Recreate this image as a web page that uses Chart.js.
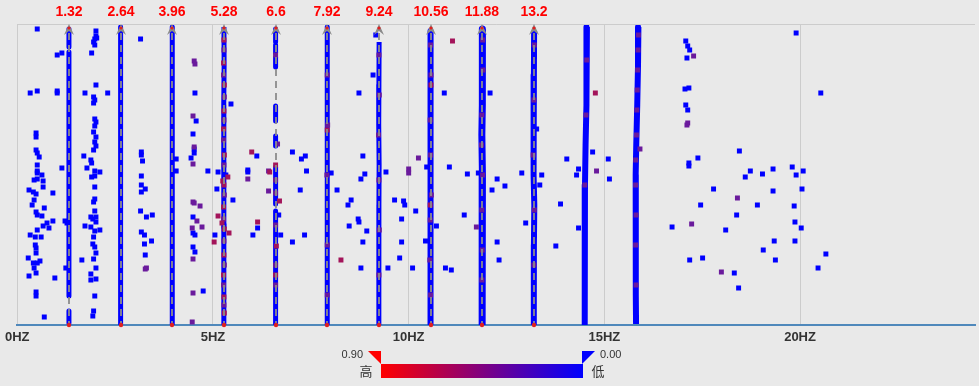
<!DOCTYPE html>
<html><head><meta charset="utf-8">
<script src="https://cdn.jsdelivr.net/npm/chart.js@4/dist/chart.umd.min.js"></script>
<style>html,body{margin:0;padding:0;background:#e9e9e9;overflow:hidden}#wrap{width:979px;height:386px;position:relative}</style>
</head><body><div id="wrap"><canvas id="c" width="979" height="386"></canvas></div>
<script>
// ---- data ----
const harmonics = [1.32, 2.64, 3.96, 5.28, 6.6, 7.92, 9.24, 10.56, 11.88, 13.2];
const harmonicLabels = ["1.32", "2.64", "3.96", "5.28", "6.6", "7.92", "9.24", "10.56", "11.88", "13.2"];
const xTicks = [0, 5, 10, 15, 20];
const xUnit = "HZ";
const legendMaxLabel = "0.90";
const legendMinLabel = "0.00";
const legendHigh = "高";
const legendLow = "低";

// dense frequency columns: [freq, amplitude] pairs, null = gap
const columnTraces = [
  [[1.32,296],[1.32,278],null,[1.32,273],[1.32,29],null,[1.32,14],[1.32,2]],
  [[2.64,298],[2.64,1]],
  [[3.96,298],[3.96,1]],
  [[5.28,298],[5.285,260],[5.275,220],[5.28,180],[5.275,140],[5.28,100],[5.275,60],[5.28,1]],
  [[6.6,296],[6.6,283],null,[6.6,280],[6.6,272],null,[6.6,268],[6.6,258],null,[6.6,219],[6.6,204],null,[6.6,189],[6.6,179],null,[6.6,158],[6.6,121],null,[6.6,114],[6.6,1]],
  [[7.92,298],[7.92,1]],
  [[9.245,283],[9.24,240],[9.235,200],[9.245,160],[9.24,120],[9.235,80],[9.24,40],[9.24,1]],
  [[10.56,294],[10.565,260],[10.555,220],[10.56,180],[10.57,140],[10.555,100],[10.55,60],[10.56,20],[10.555,1]],
  [[11.885,296],[11.89,260],[11.875,220],[11.87,190],[11.885,150],[11.875,110],[11.88,70],[11.875,40],[11.88,1]],
  [[13.205,294],[13.20,250],[13.19,200],[13.185,175],[13.20,150],[13.21,120],[13.20,80],[13.195,40],[13.20,1]],
  [[14.555,298],[14.55,260],[14.535,220],[14.52,180],[14.505,140],[14.50,100],[14.50,60],[14.495,1]],
  [[15.87,298],[15.86,260],[15.84,220],[15.815,180],[15.80,150],[15.805,110],[15.80,70],[15.805,30],[15.81,1]]
];
const columnWidths = [5,5,5,5,5,5,5,6,7,6,6,6];

// low-level (blue) points
const bluePoints = [
  [0.51,296],[1.02,270],[1.14,272],[0.33,232],[0.51,234],[1.02,234],[1.02,232],[0.48,192],[0.48,188],
  [0.48,175],[0.51,172],[0.56,168],[0.51,160],[0.51,154],[0.51,152],[0.63,150],[0.43,145],[0.51,146],
  [0.66,144],[0.66,138],[0.30,135],[0.41,133],[0.48,131],[0.91,132],[0.43,125],[0.38,120],[0.69,117],
  [0.48,113],[0.51,110],[0.63,109],[0.76,102],[0.91,104],[0.81,97],[0.66,99],[0.51,95],[0.33,90],
  [0.61,88],[0.46,88],[0.46,80],[0.48,77],[0.48,72],[0.28,67],[0.58,64],[0.51,62],[0.41,62],[0.43,57],
  [0.48,52],[0.30,49],[0.96,47],[0.48,33],[0.48,29],[0.69,8],
  [1.14,157],[1.22,104],[1.27,102],[1.24,57],
  [2.01,294],[2.01,289],[1.98,286],[2.03,287],[1.95,283],[1.98,280],[1.90,272],[2.01,240],[1.73,232],
  [1.95,228],[1.98,225],[1.95,222],[2.31,232],[1.98,206],[2.01,203],[1.98,199],[1.95,193],[2.01,188],
  [1.98,183],[2.01,179],[1.95,175],[1.70,169],[1.88,165],[1.90,162],[1.78,157],[1.98,154],[2.11,153],
  [1.90,148],[1.98,149],[1.98,138],[1.98,126],[1.95,123],[1.98,114],[1.88,108],[1.93,106],[2.01,108],
  [2.01,103],[1.73,99],[1.88,98],[1.98,94],[2.11,95],[1.95,88],[1.93,81],[1.98,78],[2.01,72],[1.65,65],
  [1.95,66],[2.01,57],[1.88,51],[2.01,46],[1.88,45],[1.98,29],[1.95,14],[1.93,9],
  [3.15,286],[3.17,173],[3.17,170],[3.20,164],[3.17,149],[3.17,140],[3.27,136],[3.17,133],[3.15,114],
  [3.30,108],[3.45,110],[3.17,93],[3.25,90],[3.43,84],[3.25,81],[3.27,70],
  [4.06,166],[4.06,154],
  [4.54,232],[4.57,204],[4.49,191],[4.52,176],[4.52,172],[4.44,167],[4.49,108],[4.49,92],[4.54,90],
  [4.49,78],[4.54,73],[4.75,34],[4.87,154],[5.13,153],[5.10,136],[5.05,90],
  [5.33,150],[5.28,99],[5.46,221],[5.51,125],
  [6.12,169],[5.89,155],[5.89,153],[6.14,97],[6.02,90],[6.68,110],[6.73,90],
  [7.03,173],[7.26,166],[7.36,169],[7.39,154],[7.23,135],[7.03,83],[7.34,90],
  [8.02,152],[8.17,135],[8.53,125],[8.45,120],[8.83,169],[8.78,146],[8.88,151],[8.71,106],[8.73,103],
  [8.48,99],[8.93,94],[8.83,83],[8.78,57],[8.73,232],[9.09,250],[9.16,290],[9.42,153],
  [9.64,125],[9.87,124],[9.90,120],[10.18,114],[9.82,106],[9.82,83],[9.77,67],[9.47,57],[10.10,57],
  [10.46,158],[10.71,99],[10.43,84],
  [10.91,232],[11.04,158],[11.50,151],[11.42,110],[10.94,57],[11.09,55],[11.78,152],
  [12.08,232],[12.13,135],[12.26,146],[12.46,139],[12.26,83],[12.31,65],[12.89,152],
  [13.27,196],[13.40,150],[13.35,140],[12.99,102],[13.76,79],
  [14.04,166],[14.34,156],[14.29,150],[13.88,121],[14.34,97],[14.70,173],[15.10,166],[15.13,146],
  [17.08,284],[17.13,279],[17.18,275],[17.11,267],[17.06,236],[17.16,237],[17.08,220],[17.13,215],
  [17.16,162],[17.16,159],[17.39,167],[16.73,98],[17.18,65],[17.51,67],[17.79,136],[17.46,120],
  [18.32,52],[18.10,95],[18.43,37],[18.45,174],[18.38,110],[18.60,148],[18.73,154],[18.91,120],
  [19.04,151],[19.06,75],[19.31,156],[19.31,134],[19.34,84],[19.37,65],[19.80,158],[19.90,150],
  [20.05,136],[19.85,119],[19.87,103],[20.03,97],[19.87,84],[20.08,154],[19.90,292],[20.53,232],
  [20.66,71],[20.46,57]
];

// mid-level (purple) points
const purplePoints = [
  [3.30,57],[3.27,56],[4.52,264],[4.54,261],[4.49,209],[4.52,178],[4.49,161],[4.49,123],[4.52,122],
  [4.67,119],[4.59,104],[4.72,98],[4.47,97],[4.49,66],[4.49,32],[4.47,3],[5.89,146],[6.42,154],
  [6.42,134],[6.65,181],[10.00,156],[10.00,152],[10.25,167],[11.73,98],[14.80,154],[15.91,176],
  [17.28,269],[17.13,202],[17.11,200],[17.23,101],[17.99,53],[18.40,127],
  // on the dense columns
  [5.28,275],[5.27,250],[5.29,228],[5.28,205],[5.27,185],[5.28,160],[5.29,130],[5.27,106],[5.28,84],
  [5.29,60],[5.27,40],[5.28,20],
  [6.6,270],[6.6,145],[6.6,132],[6.6,100],[6.6,60],[6.6,40],
  [7.92,250],[7.93,200],[7.91,150],[7.92,80],[7.92,30],
  [9.24,270],[9.25,230],[9.23,190],[9.24,145],[9.25,95],[9.24,50],
  [10.56,280],[10.57,250],[10.55,205],[10.56,170],[10.58,130],[10.55,105],[10.54,65],[10.56,30],
  [11.89,285],[11.90,255],[11.87,210],[11.86,180],[11.89,150],[11.87,115],[11.88,75],[11.87,45],
  [13.21,280],[13.20,225],[13.18,170],[13.21,115],[13.2,60],
  [14.55,265],[14.53,210],[14.50,140],
  [15.87,290],[15.86,275],[15.85,255],[15.84,235],[15.83,215],[15.82,190],[15.80,165],[15.80,140],
  [15.81,110],[15.80,80],[15.81,40]
];

// high-level (red) points
const redPoints = [
  [5.13,109],[5.03,83],[5.38,148],[5.25,144],[5.23,102],[5.41,92],[5.99,173],[6.45,153],[6.14,103],
  [6.70,124],[6.62,79],[8.27,65],[11.12,284],[14.77,232],
  [5.28,285],[5.27,262],[5.29,240],[5.28,214],[5.27,196],[5.29,170],[5.28,140],[5.27,118],[5.29,96],
  [5.28,70],[5.27,50],[5.28,28],[5.29,12],
  [6.6,160],[6.6,50],[7.92,195],[10.57,240],[10.55,120]
];

// ---- build ----
const BLUE = '#0000ff', PURPLE = '#6a1a9c', RED = '#a3145a';
const toXY = a => a.map(p => p ? {x: p[0], y: p[1]} : {x: null, y: null});

const datasets = [];
columnTraces.forEach((tr, i) => {
  datasets.push({
    type: 'scatter', data: toXY(tr), showLine: true, spanGaps: false,
    borderColor: BLUE, borderWidth: columnWidths[i], pointRadius: 0,
    borderCapStyle: 'butt', borderJoinStyle: 'round', order: 10
  });
});
[[bluePoints, BLUE, 4], [purplePoints, PURPLE, 3], [redPoints, RED, 2]].forEach(([pts, col, ord]) => {
  datasets.push({
    type: 'scatter', data: toXY(pts), pointStyle: 'rect', pointRadius: 3.5, pointBorderWidth: 0,
    backgroundColor: col, borderColor: col, order: ord
  });
});

const overlay = {
  id: 'overlay',
  afterDatasetsDraw(chart) {
    const ctx = chart.ctx, xs = chart.scales.x, ca = chart.chartArea;
    ctx.save();
    // top border
    ctx.strokeStyle = '#cccccc'; ctx.lineWidth = 1;
    ctx.beginPath(); ctx.moveTo(ca.left, ca.top + 0.5); ctx.lineTo(ca.right, ca.top + 0.5); ctx.stroke();
    harmonics.forEach((h, i) => {
      const x = Math.round(xs.getPixelForValue(h));
      // dashed line
      ctx.strokeStyle = 'rgba(140,140,140,0.9)'; ctx.lineWidth = 2; ctx.setLineDash([7, 5]);
      ctx.beginPath(); ctx.moveTo(x, ca.top + 9); ctx.lineTo(x, ca.bottom); ctx.stroke();
      ctx.setLineDash([]);
      // arrow head
      ctx.fillStyle = '#8a8a8a';
      ctx.beginPath();
      ctx.moveTo(x, ca.top); ctx.lineTo(x + 5, ca.top + 11); ctx.lineTo(x, ca.top + 7); ctx.lineTo(x - 5, ca.top + 11);
      ctx.closePath(); ctx.fill();
      ctx.fillStyle = '#e02020';
      ctx.beginPath(); ctx.arc(x, ca.top + 4, 1.6, 0, Math.PI * 2); ctx.fill();
      ctx.beginPath(); ctx.arc(x, ca.bottom, 2.2, 0, Math.PI * 2); ctx.fill();
      // label
      ctx.fillStyle = '#ff0000'; ctx.font = 'bold 14px "Liberation Sans", Arial, sans-serif';
      ctx.textAlign = 'center'; ctx.textBaseline = 'middle';
      ctx.fillText(harmonicLabels[i], x, 12);
    });
    // colour legend
    const gx0 = 381, gx1 = 583, gy0 = 364, gy1 = 378;
    const g = ctx.createLinearGradient(gx0, 0, gx1, 0);
    g.addColorStop(0, '#ff0000'); g.addColorStop(0.5, '#800080'); g.addColorStop(1, '#0000ff');
    ctx.fillStyle = g; ctx.fillRect(gx0, gy0, gx1 - gx0, gy1 - gy0);
    ctx.fillStyle = '#ff0000';
    ctx.beginPath(); ctx.moveTo(368, 351); ctx.lineTo(381, 351); ctx.lineTo(381, 364); ctx.closePath(); ctx.fill();
    ctx.fillStyle = '#0000ff';
    ctx.beginPath(); ctx.moveTo(582, 351); ctx.lineTo(595, 351); ctx.lineTo(582, 364); ctx.closePath(); ctx.fill();
    ctx.fillStyle = '#333333'; ctx.font = '11px "Liberation Sans", Arial, sans-serif'; ctx.textBaseline = 'middle';
    ctx.textAlign = 'right'; ctx.fillText(legendMaxLabel, 363, 355);
    ctx.textAlign = 'left'; ctx.fillText(legendMinLabel, 600, 355);
    ctx.font = '13px "Noto Sans CJK SC", sans-serif'; ctx.textAlign = 'center';
    ctx.fillText(legendHigh, 366, 371);
    ctx.fillText(legendLow, 598, 371);
    ctx.restore();
  }
};

new Chart(document.getElementById('c'), {
  type: 'scatter',
  data: { datasets },
  options: {
    animation: false, responsive: false, devicePixelRatio: 1,
    layout: { padding: { top: 24, left: 15, right: 0, bottom: 0 } },
    plugins: { legend: { display: false }, tooltip: { enabled: false } },
    scales: {
      x: {
        type: 'linear', min: 0, max: 24.47,
        afterBuildTicks: s => { s.ticks = xTicks.map(v => ({ value: v })); },
        afterFit: s => { s.height = 61; },
        ticks: { padding: 5, color: '#333333', maxRotation: 0, autoSkip: false,
          font: { family: '"Liberation Sans", Arial, sans-serif', weight: 'bold', size: 13 },
          callback: v => v + xUnit },
        grid: { color: '#cccccc', lineWidth: 1, drawTicks: false },
        border: { display: true, color: '#4f88bb', width: 2 }
      },
      y: { display: false, min: 0, max: 301 }
    }
  },
  plugins: [overlay]
});
</script></body></html>
